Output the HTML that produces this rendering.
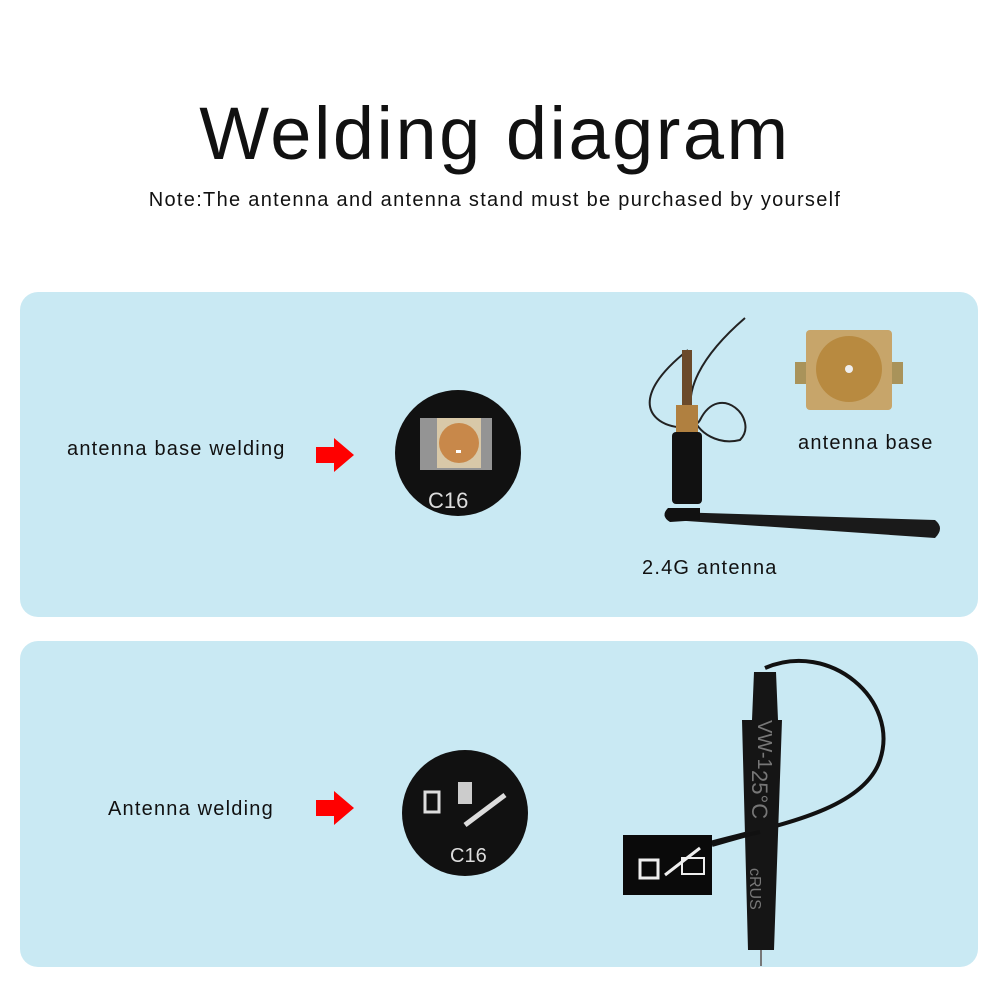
<!DOCTYPE html>
<html><head><meta charset="utf-8"><style>
html,body{margin:0;padding:0;background:#fff;}
body{width:1000px;height:1000px;position:relative;overflow:hidden;font-family:"Liberation Sans","DejaVu Sans",sans-serif;color:#111;}
.t{position:absolute;white-space:nowrap;}
.l{font-size:20px;letter-spacing:1.2px;}
</style></head><body>
<div class="t" style="left:0;width:990px;text-align:center;top:92px;font-size:74px;line-height:84px;letter-spacing:2.5px;">Welding diagram</div>
<div class="t" style="left:0;width:990px;text-align:center;top:188px;font-size:20px;line-height:24px;letter-spacing:1.3px;">Note:The antenna and antenna stand must be purchased by yourself</div>
<svg width="1000" height="1000" style="position:absolute;left:0;top:0" xmlns="http://www.w3.org/2000/svg">
<rect x="20" y="292" width="958" height="325" rx="18" fill="#c9e9f3"/>
<rect x="20" y="641" width="958" height="326" rx="18" fill="#c9e9f3"/>
<polygon points="316,447 334,447 334,438 354,455 334,472 334,463 316,463" fill="#f00"/>
<polygon points="316,800 334,800 334,791 354,808 334,825 334,816 316,816" fill="#f00"/>
<circle cx="458" cy="453" r="63" fill="#111"/>
<rect x="420" y="418" width="72" height="52" fill="#ccc" opacity=".7"/>
<rect x="437" y="418" width="44" height="50" fill="#d8c8a8"/>
<circle cx="459" cy="443" r="20" fill="#c8884a"/>
<rect x="456" y="450" width="5" height="3" fill="#fff"/>
<text x="428" y="508" font-size="22" fill="#ddd" font-family="Liberation Sans,sans-serif">C16</text>
<circle cx="465" cy="813" r="63" fill="#111"/>
<rect x="425" y="792" width="14" height="20" fill="none" stroke="#ddd" stroke-width="3"/>
<rect x="458" y="782" width="14" height="22" fill="#ccc"/>
<path d="M465 825 L505 795" stroke="#ddd" stroke-width="5"/>
<text x="450" y="862" font-size="20" fill="#ddd" font-family="Liberation Sans,sans-serif">C16</text>
<path d="M688 350 C600 420 690 440 700 420 C720 380 760 420 740 440 C700 450 650 400 745 318" stroke="#222" stroke-width="2" fill="none"/>
<rect x="682" y="350" width="10" height="70" fill="#6b4a2a"/>
<rect x="676" y="405" width="22" height="30" fill="#b08040"/>
<rect x="672" y="432" width="30" height="72" rx="4" fill="#111"/>
<path d="M672 512 L935 520 Q945 528 935 538 L672 520 Z" fill="#1a1a1a"/>
<path d="M668 508 Q660 516 670 522 L700 520 L700 508 Z" fill="#111"/>
<rect x="795" y="362" width="108" height="22" fill="#a9935a"/>
<rect x="806" y="330" width="86" height="80" rx="4" fill="#c7a56a"/>
<circle cx="849" cy="369" r="33" fill="#b88a40"/>
<circle cx="849" cy="369" r="4" fill="#eee"/>
<path d="M765 668 C830 640 900 700 880 760 C860 820 740 830 680 852" stroke="#111" stroke-width="4" fill="none"/>
<path d="M754 672 L776 672 L778 720 L782 720 L774 950 L748 950 L742 720 L752 720 Z" fill="#151515"/>
<line x1="761" y1="950" x2="761" y2="966" stroke="#777" stroke-width="2"/>
<text transform="translate(758,720) rotate(90)" font-size="20" fill="#777" font-family="Liberation Sans,sans-serif">VW-1</text>
<text transform="translate(752,770) rotate(90)" font-size="22" fill="#777" font-family="Liberation Sans,sans-serif">25°C</text>
<text transform="translate(750,868) rotate(90)" font-size="16" fill="#777" font-family="Liberation Sans,sans-serif">cRUS</text>
<rect x="623" y="835" width="89" height="60" fill="#0a0a0a"/>
<rect x="640" y="860" width="18" height="18" fill="none" stroke="#eee" stroke-width="3"/>
<rect x="682" y="858" width="22" height="16" fill="none" stroke="#eee" stroke-width="2"/>
<path d="M665 875 L700 848" stroke="#eee" stroke-width="3"/>
<path d="M712 845 C730 840 745 835 760 832" stroke="#111" stroke-width="4" fill="none"/>
</svg>
<div class="t l" style="left:67px;top:438px;">antenna base welding</div>
<div class="t l" style="left:798px;top:432px;">antenna base</div>
<div class="t l" style="left:642px;top:557px;">2.4G antenna</div>
<div class="t l" style="left:108px;top:798px;">Antenna welding</div>
</body></html>
